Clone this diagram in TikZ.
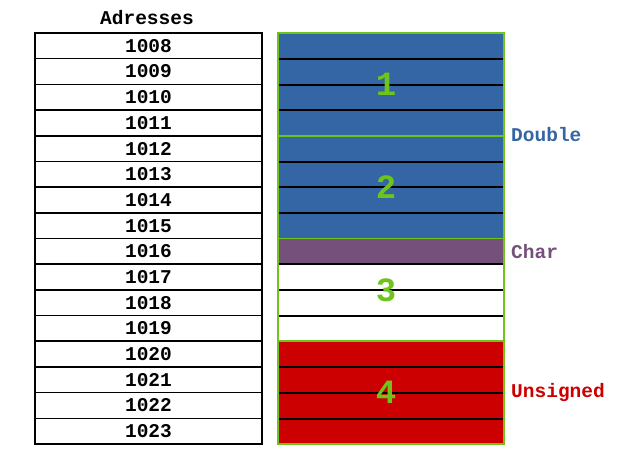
\documentclass[tikz,border=0pt]{standalone}
\usepackage{fontspec}
\setmonofont{Liberation Mono}
\definecolor{cblue}{HTML}{3465A4}
\definecolor{cplum}{HTML}{75507B}
\definecolor{cred}{HTML}{CC0000}
\definecolor{cgreen}{HTML}{6FC41C}
\begin{document}
\begin{tikzpicture}[x=1pt,y=-1pt,
  mono/.style={font=\fontsize{19.5}{19.5}\selectfont\ttfamily\bfseries},
  addr/.style={mono,draw=black,line width=1.6pt,minimum width=227pt,minimum height=25.6875pt,inner sep=0pt,anchor=center},
  cell/.style={minimum width=226pt,minimum height=25.6875pt,inner sep=0pt,anchor=center,draw=none},
  grp/.style={draw=cgreen,line width=1.8pt,minimum width=226pt,minimum height=102.75pt,inner sep=0pt,anchor=center},
  gnum/.style={text=cgreen,font=\fontsize{34}{34}\selectfont\ttfamily\bfseries,inner sep=0pt},
  sep/.style={draw=black,line width=2pt},
  lab/.style={mono,anchor=west,inner sep=0pt}]
\useasboundingbox (0,0) rectangle (640,457);
\node[mono] (title) at (147,18) {Adresses};
\foreach \i in {0,...,15}{
  \pgfmathtruncatemacro\addr{1008+\i}
  \node[addr] (a\addr) at (148.5,{33+25.6875*(\i+0.5)}) {\addr};
}
% right column cells
\foreach \i/\c in {0/cblue,1/cblue,2/cblue,3/cblue,4/cblue,5/cblue,6/cblue,7/cblue,8/cplum,12/cred,13/cred,14/cred,15/cred}{
  \pgfmathtruncatemacro\addr{1008+\i}
  \node[cell,fill=\c] (c\addr) at (391,{33+25.6875*(\i+0.5)}) {};
}
\foreach \i in {9,10,11}{
  \pgfmathtruncatemacro\addr{1008+\i}
  \node[cell,fill=white,draw=gray!60,line width=0.6pt] (c\addr) at (391,{33+25.6875*(\i+0.5)}) {};
}
% separators inside groups
\foreach \addr in {1008,1009,1010,1012,1013,1014,1016,1017,1018,1020,1021,1022}{
  \draw[sep] (c\addr.south west) -- (c\addr.south east);
}
% groups
\node[grp] (g1) at (391,{33+25.6875*2}) {};
\node[grp] (g2) at (391,{33+25.6875*6}) {};
\node[grp] (g3) at (391,{33+25.6875*10}) {};
\node[grp] (g4) at (391,{33+25.6875*14}) {};
\node[gnum] (n1) at ([xshift=-5pt]g1.center) {1};
\node[gnum] (n2) at ([xshift=-5pt]g2.center) {2};
\node[gnum] (n3) at ([xshift=-5pt]g3.center) {3};
\node[gnum] (n4) at ([xshift=-5pt]g4.center) {4};
% labels
\node[lab,text=cblue] (ldouble) at (511,135) {Double};
\node[lab,text=cplum] (lchar) at (511,252) {Char};
\node[lab,text=cred] (lunsigned) at (511,392) {Unsigned};
\end{tikzpicture}
\end{document}
